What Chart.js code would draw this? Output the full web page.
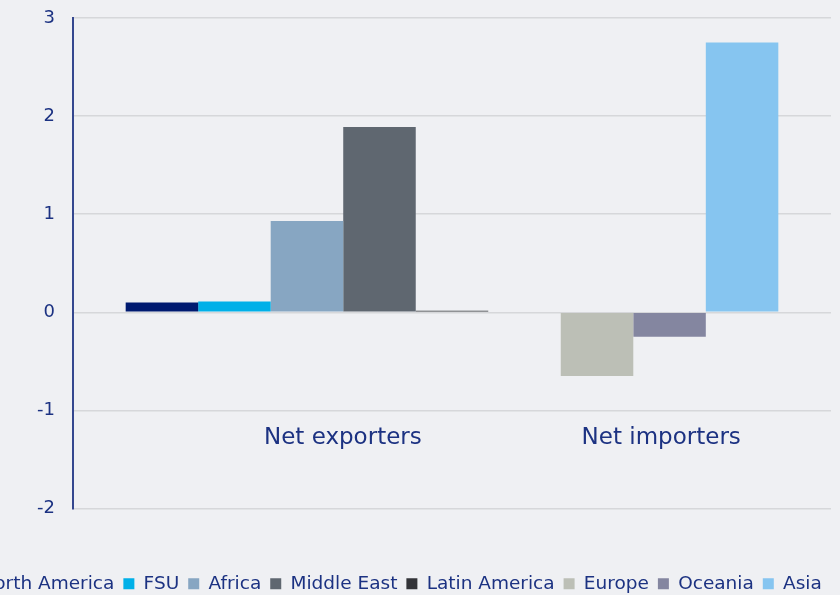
<!DOCTYPE html>
<html>
<head>
<meta charset="utf-8">
<script src="https://cdn.jsdelivr.net/npm/chart.js@4.4.1/dist/chart.umd.min.js"></script>
<style>
  html, body { margin: 0; padding: 0; background: #eff0f3; overflow: hidden; width: 840px; height: 595px; }
  /* the source picture is cropped on the left, so the canvas sticks out a bit */
  #wrap { position: absolute; left: -59px; top: 0; width: 900px; height: 603px; }
</style>
</head>
<body>
<div id="wrap"><canvas id="chart"></canvas></div>
<script>
// --- data ---
const regions = ["North America", "FSU", "Africa", "Middle East", "Latin America", "Europe", "Oceania", "Asia"];
const values = [0.10, 0.11, 0.93, 1.89, 0.015, -0.65, -0.25, 2.75];
const regionGroup = [0, 0, 0, 0, 0, 1, 1, 1];
const groupLabels = ["Net exporters", "Net importers"];
const yMin = -2, yMax = 3, yStep = 1;

// --- style ---
const colors = ["#001a70", "#00b0e8", "#87a6c2", "#5f6770", "#333438", "#bcbfb6", "#8486a0", "#86c5f0"];
const navy = "#1c3282";
const font = "'DejaVu Sans', Verdana, sans-serif";
const groupLabelX = [0.356, 0.776];   // fraction of plot width
const groupLabelY = -1.28;           // in axis units

// build datasets, leaving an empty slot between the two groups
const datasets = [];
regions.forEach((name, i) => {
    if (i > 0 && regionGroup[i] !== regionGroup[i - 1]) {
        datasets.push({ label: "", data: [null], backgroundColor: "transparent" });
    }
    datasets.push({ label: name, data: [values[i]], backgroundColor: colors[i], borderWidth: 0 });
});

const groupLabelPlugin = {
    id: "groupLabels",
    afterDatasetsDraw(chart) {
        const { ctx, chartArea, scales } = chart;
        const y = scales.y.getPixelForValue(groupLabelY);
        ctx.save();
        ctx.font = "23px " + font;
        ctx.fillStyle = navy;
        ctx.textAlign = "center";
        ctx.textBaseline = "middle";
        groupLabels.forEach((t, i) => {
            ctx.fillText(t, chartArea.left + groupLabelX[i] * chartArea.width, y);
        });
        ctx.restore();
    }
};

new Chart(document.getElementById("chart"), {
    type: "bar",
    data: { labels: [""], datasets },
    options: {
        responsive: true,
        maintainAspectRatio: false,
        animation: false,
        devicePixelRatio: 1,
        categoryPercentage: 0.861,
        barPercentage: 1,
        layout: { padding: { top: 18, right: 0, left: 0, bottom: 0 } },
        scales: {
            x: {
                grid: { display: false },
                border: { display: false },
                ticks: { display: false },
                afterFit: s => { s.height = 57; }
            },
            y: {
                min: yMin,
                max: yMax,
                ticks: { stepSize: yStep, padding: 18, color: navy, font: { family: font, size: 18 } },
                grid: { color: "#d6d7da", lineWidth: 1.5, drawTicks: false },
                border: { display: true, color: "#34478f", width: 2 },
                afterFit: s => { s.width = 132; s.paddingTop = 0; s.paddingBottom = 0; }
            },
            // empty right-hand axis, only reserves the space right of the plot
            yRight: {
                position: "right",
                grid: { display: false },
                border: { display: false },
                ticks: { display: false },
                afterFit: s => { s.width = 10; s.paddingTop = 0; s.paddingBottom = 0; }
            }
        },
        plugins: {
            legend: {
                position: "bottom",
                labels: {
                    filter: item => item.text !== "",
                    boxWidth: 11,
                    boxHeight: 11,
                    padding: 9,
                    color: navy,
                    font: { family: font, size: 18.5 }
                }
            },
            tooltip: { enabled: false }
        }
    },
    plugins: [groupLabelPlugin]
});
</script>
</body>
</html>
